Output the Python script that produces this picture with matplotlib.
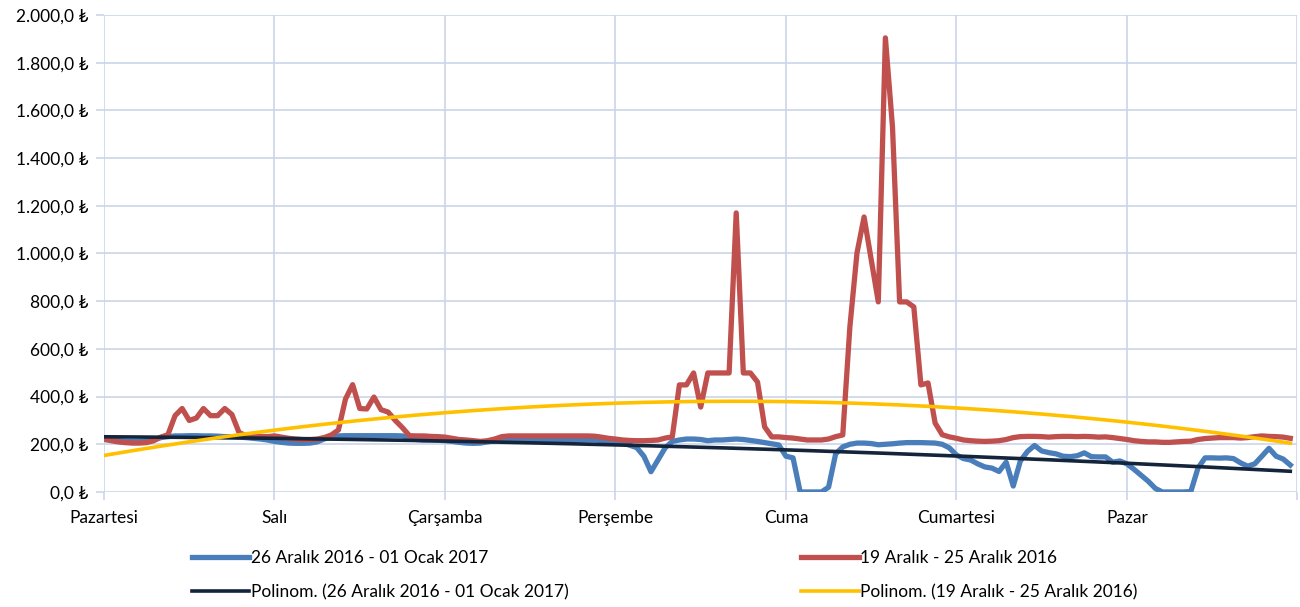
import numpy as np
import matplotlib
matplotlib.use("Agg")
import matplotlib.pyplot as plt
from matplotlib.ticker import FuncFormatter

plt.rcParams['font.family'] = ['Lato', 'DejaVu Sans']

days = ["Pazartesi", "Salı", "Çarşamba", "Perşembe", "Cuma", "Cumartesi", "Pazar"]

# hourly values, 24 per day
blue = [220, 218, 215, 213, 212, 212, 215, 220, 228, 232, 235, 235, 236, 236, 235, 235, 234, 232, 232, 230, 228, 225, 222, 218,
        212, 208, 205, 204, 204, 205, 210, 222, 232, 235, 236, 236, 236, 236, 236, 236, 236, 236, 235, 228, 220, 218, 218, 217,
        215, 212, 208, 205, 204, 205, 210, 215, 218, 218, 218, 218, 218, 218, 218, 218, 218, 218, 218, 218, 218, 218, 216, 214,
        212, 205, 196, 186, 150, 85, 135, 185, 212, 218, 222, 222, 220, 215, 218, 218, 220, 222, 220, 216, 212, 207, 202, 197,
        150, 143, 0, 0, 0, 0, 20, 160, 189, 200, 205, 205, 203, 198, 200, 202, 205, 207, 207, 207, 206, 205, 200, 185,
        155, 140, 134, 118, 105, 100, 86, 125, 25, 130, 170, 195, 172, 165, 160, 150, 148, 152, 164, 148, 147, 147, 125, 130,
        118, 95, 70, 45, 15, 0, 0, 0, 0, 2, 100, 143, 143, 142, 143, 140, 122, 108, 118, 150, 183, 150, 138, 113]

red = [222, 215, 210, 207, 205, 205, 207, 215, 230, 240, 320, 350, 300, 310, 350, 320, 320, 350, 325, 250, 235, 235, 233, 232,
       235, 230, 225, 222, 220, 220, 222, 228, 239, 260, 390, 450, 350, 348, 398, 345, 335, 300, 270, 236, 235, 235, 233, 232,
       230, 225, 220, 218, 215, 212, 215, 222, 232, 235, 235, 235, 235, 235, 235, 235, 235, 235, 235, 235, 235, 234, 230, 225,
       222, 218, 216, 215, 215, 216, 218, 226, 231, 449, 449, 499, 356, 499, 499, 499, 499, 1170, 499, 499, 461, 273, 231, 231,
       228, 226, 222, 218, 218, 218, 222, 232, 239, 692, 1002, 1153, 975, 797, 1904, 1530, 797, 797, 776, 449, 457, 289, 240, 231,
       225, 218, 215, 213, 212, 213, 215, 220, 228, 232, 233, 233, 232, 230, 232, 233, 233, 232, 233, 232, 230, 231, 228, 224,
       220, 215, 212, 210, 210, 208, 208, 210, 212, 213, 220, 224, 226, 228, 228, 228, 226, 228, 232, 235, 233, 232, 230, 225]

lbl_blue = "26 Aralık 2016 - 01 Ocak 2017"
lbl_red = "19 Aralık - 25 Aralık 2016"

x = np.arange(len(blue))
trend_blue = np.polyval(np.polyfit(x, blue, 2), x)
trend_red = np.polyval(np.polyfit(x, red, 2), x)

grid_c = '#c9d6ea'

fig = plt.figure(figsize=(13, 6.07), dpi=100)
ax = fig.add_axes([0.08, 0.1895, 0.918, 0.7858])

l1, = ax.plot(x, blue, color='#4a7ebb', lw=3.8, label=lbl_blue, solid_joinstyle='round')
l2, = ax.plot(x, red, color='#c0504d', lw=3.8, label=lbl_red, solid_joinstyle='round')
l3, = ax.plot(x, trend_blue, color='#14243b', lw=2.6, label="Polinom. (" + lbl_blue + ")")
l4, = ax.plot(x, trend_red, color='#ffc000', lw=2.6, label="Polinom. (" + lbl_red + ")")

ax.set_xlim(0, 168)
ax.set_ylim(0, 2000)
ax.set_yticks(np.arange(0, 2001, 200))
ax.set_xticks(np.arange(0, 169, 24))
ax.set_xticklabels(days + [''])
ax.yaxis.set_major_formatter(FuncFormatter(
    lambda v, p: "{:,.1f}".format(v).replace(',', 'X').replace('.', ',').replace('X', '.') + " ₺"))
ax.grid(True, color=grid_c, lw=1.2)
ax.set_axisbelow(True)
for s in ax.spines.values():
    s.set_visible(False)
ax.tick_params(axis='both', colors=grid_c, labelcolor='black', labelsize=12.5, length=6, width=1.2)
ax.tick_params(axis='x', pad=7)
ax.tick_params(axis='y', pad=5)

fig.legend(handles=[l1, l3, l2, l4], loc='center', bbox_to_anchor=(0.5115, 0.0525), ncol=2,
           frameon=False, fontsize=12.5, handlelength=3.3, handletextpad=0.1,
           columnspacing=13.4, labelspacing=1.05)

fig.savefig("out.png", dpi=100)
